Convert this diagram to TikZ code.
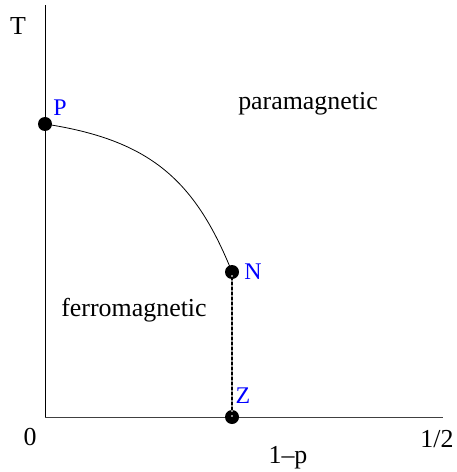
\documentclass[tikz,border=0pt]{standalone}
\usepackage{fontspec}
\setmainfont{Liberation Serif}
\usetikzlibrary{positioning}
\definecolor{ptcolor}{RGB}{0,0,255}

\begin{document}
\begin{tikzpicture}[x=1bp,y=-1bp,
  axis/.style={line width=0.9bp,black!75},
  dot/.style={circle,fill=black,inner sep=0pt,minimum size=14bp},
  ptlbl/.style={font=\fontsize{24}{26}\selectfont,text=ptcolor,inner sep=0pt},
  txt/.style={font=\fontsize{26}{28}\selectfont,inner sep=0pt},
  phase/.style={line width=0.8bp,black},
  border/.style={line width=1.4bp,black!45}
]
\useasboundingbox (0,0) rectangle (457,472);
% axes
\coordinate (orig) at (45,417);
\coordinate (ytop) at (45,5);
\coordinate (xend) at (443,417);
\draw[axis,black] (orig) -- (ytop);
\draw[axis] (orig) -- (xend);
% points
\node[dot] (P) at (45,124) {};
\node[dot] (N) at (232,272) {};
\node[dot] (Z) at (232,417) {};
\node[ptlbl] (Plbl) at (60,108) {P};
\node[ptlbl] (Nlbl) at (253,272) {N};
\node[ptlbl] (Zlbl) at (243,396) {Z};
% phase lines
\draw[phase] (P.center) .. controls (150,140) and (195,180) .. (N.center);
\draw[border] (N.center) -- (Z.center);
\draw[black,line width=1.4bp,dash pattern=on 2.5bp off 2.5bp] (N.center) -- (Z.center);
% texts
\node[txt] (Tlbl) at (18,26) {T};
\node[txt] (zero) at (30,437) {0};
\node[txt] (onemp) at (288,458) {1\textendash p};
\node[txt] (half) at (437,439) {1/2};
\node[txt] (para) at (308,104) {paramagnetic};
\node[txt] (ferro) at (134,310) {ferromagnetic};
\end{tikzpicture}
\end{document}
